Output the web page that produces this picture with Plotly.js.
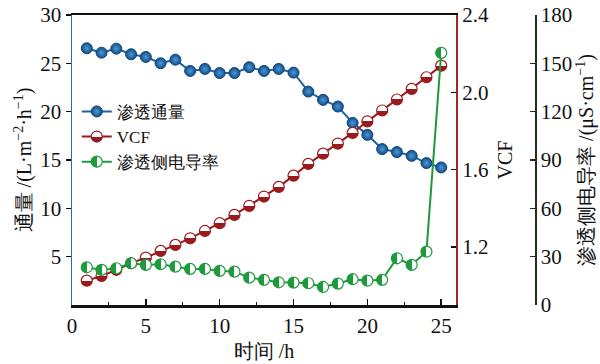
<!DOCTYPE html>
<html>
<head>
<meta charset="utf-8">
<script src="https://cdn.plot.ly/plotly-3.0.1.min.js"></script>
<style>html,body{margin:0;padding:0;background:#fff;}#chart{width:600px;height:364px;}</style>
</head>
<body>
<div id="chart"></div>
<script>
// ---- data ----
const time = [1,2,3,4,5,6,7,8,9,10,11,12,13,14,15,16,17,18,19,20,21,22,23,24,25];
const flux = [26.56,26.1,26.52,25.94,25.66,25.01,25.38,24.21,24.42,24.0,24.0,24.6,24.21,24.42,24.04,22.08,21.22,20.53,18.84,17.6,16.13,15.82,15.43,14.68,14.23];
const vcf = [1.026,1.05,1.082,1.116,1.145,1.18,1.211,1.245,1.283,1.323,1.366,1.413,1.461,1.511,1.569,1.63,1.683,1.735,1.79,1.85,1.906,1.963,2.018,2.078,2.138];
const conductivity = [23.4,21.8,22.8,25.9,24.9,25.3,23.8,22.4,22.4,21.2,20.7,17.0,15.6,14.1,13.9,13.5,11.2,13.3,16.0,15.1,15.6,29.0,24.9,33.1,156.5];
const seriesNames = ['渗透通量','VCF','渗透侧电导率'];

const BLUE = '#1b63a6', RED = '#9a1b1e', GREEN = '#1d9a3c';
const SERIF = 'Liberation Serif';

const traces = [
  {x: time, y: flux, name: seriesNames[0], type: 'scatter', mode: 'lines+markers', yaxis: 'y',
   line: {color: BLUE, width: 2},
   marker: {size: 11, color: '#134f88', gradient: {type: 'radial', color: '#4a98d6'}, line: {color: '#0f4476', width: 1}}},
  {x: time, y: vcf, name: seriesNames[1], type: 'scatter', mode: 'lines+markers', yaxis: 'y2',
   line: {color: RED, width: 2},
   marker: {size: 11, color: '#ffffff', gradient: {type: 'vertical', color: RED}, line: {color: RED, width: 1.2}}},
  {x: time, y: conductivity, name: seriesNames[2], type: 'scatter', mode: 'lines+markers', yaxis: 'y3',
   line: {color: GREEN, width: 2},
   marker: {size: 11, color: GREEN, gradient: {type: 'horizontal', color: '#ffffff'}, line: {color: GREEN, width: 1.2}}}
];

const tickFont = {family: SERIF, size: 21, color: '#111'};
const titleFont = {family: SERIF, size: 20, color: '#111'};

const layout = {
  width: 600, height: 364,
  font: {family: SERIF},
  margin: {l: 72, r: 52, t: 15, b: 59},
  paper_bgcolor: '#ffffff', plot_bgcolor: '#ffffff',
  showlegend: true,
  legend: {x: 0.01, y: 0.728, xanchor: 'left', yanchor: 'top', bgcolor: 'rgba(0,0,0,0)',
           font: {family: SERIF, size: 17, color: '#111'}, itemwidth: 30, tracegroupgap: 0},
  xaxis: {domain: [0, 0.8067], range: [0, 26], tick0: 0, dtick: 5, showgrid: false, zeroline: false,
          showline: true, linecolor: '#111', linewidth: 2.5, mirror: true,
          ticks: 'inside', ticklen: 6, tickwidth: 1.5, tickcolor: '#111',
          minor: {dtick: 2.5, ticks: 'inside', ticklen: 3, tickwidth: 1, tickcolor: '#111'},
          tickfont: tickFont, title: {text: '时间 /h', font: titleFont, standoff: 8}},
  yaxis: {range: [0, 30], tickvals: [5,10,15,20,25,30], showgrid: false, zeroline: false,
          showline: true, linecolor: '#2f6eaa', linewidth: 1.5,
          ticks: 'outside', ticklen: 5, tickwidth: 1.2, tickcolor: '#111',
          tickfont: tickFont,
          title: {text: '通量 /(L·m<sup>−2</sup>·h<sup>−1</sup>)', font: titleFont, standoff: 3}},
  yaxis2: {overlaying: 'y', side: 'right', anchor: 'x', range: [0.9, 2.4], tick0: 1.2, dtick: 0.4,
           tickformat: '.1f', showgrid: false, zeroline: false,
           showline: true, linecolor: '#a3262a', linewidth: 2,
           ticks: 'inside', ticklen: 5, tickwidth: 1.2, tickcolor: '#111',
           tickfont: tickFont, title: {text: 'VCF', font: titleFont, standoff: 10}},
  yaxis3: {overlaying: 'y', side: 'right', anchor: 'free', position: 0.9727, range: [0, 180], dtick: 30,
           showgrid: false, zeroline: false,
           showline: true, linecolor: '#1e331e', linewidth: 1.5,
           ticks: 'inside', ticklen: 5, tickwidth: 1.2, tickcolor: '#1e331e',
           tickfont: tickFont,
           title: {text: '渗透侧电导率 /(μS·cm<sup>−1</sup>)', font: titleFont, standoff: 8}}
};

Plotly.newPlot('chart', traces, layout, {staticPlot: true, displayModeBar: false}).then(function (gd) {
  // half-filled markers: turn each two-stop linear gradient into a sharp split
  gd.querySelectorAll('linearGradient').forEach(function (g) {
    const stops = g.querySelectorAll('stop');
    if (stops.length !== 2) return;
    const a = stops[0], b = stops[1];
    const ns = 'http://www.w3.org/2000/svg';
    const m1 = document.createElementNS(ns, 'stop');
    const m2 = document.createElementNS(ns, 'stop');
    m1.setAttribute('offset', '50%');
    m1.setAttribute('style', a.getAttribute('style') || '');
    if (a.getAttribute('stop-color')) m1.setAttribute('stop-color', a.getAttribute('stop-color'));
    m2.setAttribute('offset', '50%');
    m2.setAttribute('style', b.getAttribute('style') || '');
    if (b.getAttribute('stop-color')) m2.setAttribute('stop-color', b.getAttribute('stop-color'));
    g.insertBefore(m1, b);
    g.insertBefore(m2, b);
  });
});
</script>
</body>
</html>
